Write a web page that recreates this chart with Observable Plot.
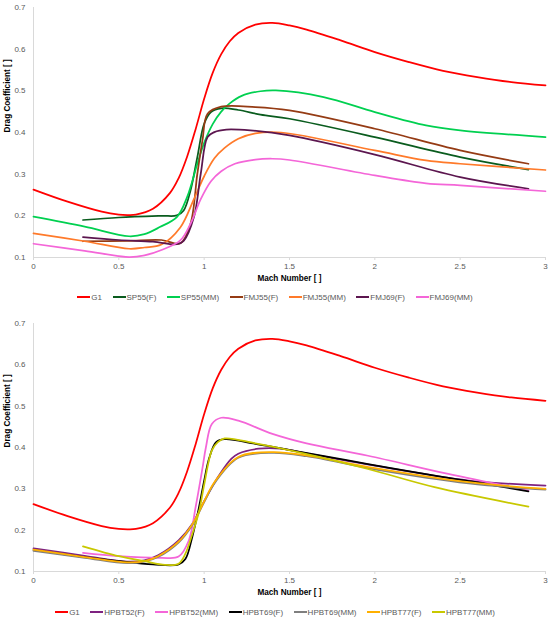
<!DOCTYPE html>
<html>
<head>
<meta charset="utf-8">
<script src="https://cdn.jsdelivr.net/npm/d3@7"></script>
<script src="https://cdn.jsdelivr.net/npm/@observablehq/plot@0.6"></script>
<style>
  html, body { margin: 0; padding: 0; background: #fff; width: 550px; height: 619px; overflow: hidden; }
  body { position: relative; font-family: "Liberation Sans", Arial, sans-serif; }
  .chart { position: absolute; left: 0; }
  .legend { position: absolute; left: 0; width: 550px; height: 16px; display: flex; justify-content: center; align-items: center; gap: 10.5px; font-size: 8px; color: #595959; }
  .item { display: flex; align-items: center; white-space: nowrap; }
  .sw { width: 13px; height: 2px; margin-right: 1px; }
</style>
</head>
<body>
<div id="c1" class="chart" style="top:0px"></div>
<div id="l1" class="legend" style="top:289px"></div>
<div id="c2" class="chart" style="top:310px"></div>
<div id="l2" class="legend" style="top:604px"></div>
<script>
// ---- ticks ----
const xTicks = [0, 0.5, 1, 1.5, 2, 2.5, 3];
const yTicks = [0.1, 0.2, 0.3, 0.4, 0.5, 0.6, 0.7];
const xTitle = "Mach Number [ ]";
const yTitle = "Drag Coefficient [ ]";

// ---- G1 reference (both charts) ----
const g1Mach = [0, 0.2, 0.4, 0.5, 0.55, 0.6, 0.7, 0.8, 0.85, 0.9, 0.95, 1.0, 1.05, 1.1, 1.15, 1.2, 1.3, 1.4, 1.5, 1.6, 1.8, 2.0, 2.2, 2.4, 2.6, 2.8, 3.0];
const g1Cd   = [0.263, 0.234, 0.210, 0.203, 0.202, 0.203, 0.217, 0.255, 0.290, 0.342, 0.408, 0.481, 0.543, 0.588, 0.619, 0.639, 0.659, 0.663, 0.657, 0.647, 0.621, 0.593, 0.569, 0.548, 0.533, 0.521, 0.513];

// ---- top chart ----
const sp55fMach = [0.29, 0.5, 0.75, 0.84, 0.88, 0.92, 0.96, 1.0, 1.04, 1.1, 1.2, 1.33, 1.5, 2.0, 2.5, 2.9];
const sp55fCd   = [0.190, 0.196, 0.200, 0.201, 0.213, 0.261, 0.341, 0.421, 0.449, 0.458, 0.454, 0.443, 0.433, 0.389, 0.341, 0.311];

const sp55mmMach = [0, 0.3, 0.56, 0.65, 0.74, 0.84, 0.9, 0.96, 1.0, 1.05, 1.1, 1.15, 1.22, 1.33, 1.42, 1.7, 2.0, 2.3, 2.5, 3.0];
const sp55mmCd   = [0.198, 0.174, 0.151, 0.156, 0.173, 0.197, 0.245, 0.325, 0.375, 0.420, 0.450, 0.470, 0.488, 0.499, 0.501, 0.485, 0.449, 0.417, 0.405, 0.389];

const fmj55fMach = [0.29, 0.55, 0.75, 0.86, 0.92, 0.96, 0.99, 1.02, 1.1, 1.3, 1.5, 2.0, 2.5, 2.9];
const fmj55fCd   = [0.139, 0.140, 0.142, 0.134, 0.181, 0.301, 0.381, 0.445, 0.462, 0.461, 0.453, 0.409, 0.357, 0.325];

const fmj55mmMach = [0, 0.3, 0.56, 0.65, 0.75, 0.86, 0.94, 1.0, 1.06, 1.12, 1.2, 1.3, 1.45, 2.0, 2.3, 2.5, 3.0];
const fmj55mmCd   = [0.158, 0.139, 0.121, 0.124, 0.131, 0.172, 0.240, 0.295, 0.338, 0.363, 0.385, 0.398, 0.400, 0.357, 0.333, 0.325, 0.310];

const fmj69fMach = [0.29, 0.5, 0.7, 0.84, 0.88, 0.94, 0.98, 1.02, 1.06, 1.13, 1.27, 1.5, 2.0, 2.5, 2.9];
const fmj69fCd   = [0.149, 0.142, 0.138, 0.132, 0.140, 0.197, 0.301, 0.389, 0.401, 0.407, 0.405, 0.393, 0.347, 0.293, 0.265];

const fmj69mmMach = [0, 0.3, 0.56, 0.65, 0.75, 0.86, 0.92, 0.98, 1.04, 1.1, 1.18, 1.3, 1.4, 1.5, 2.0, 2.3, 2.5, 3.0];
const fmj69mmCd   = [0.133, 0.116, 0.101, 0.105, 0.118, 0.141, 0.181, 0.240, 0.283, 0.307, 0.325, 0.335, 0.337, 0.334, 0.297, 0.278, 0.273, 0.259];

// ---- bottom chart ----
const hp52fMach = [0, 0.3, 0.55, 0.65, 0.73, 0.85, 0.93, 1.0, 1.08, 1.16, 1.2, 1.32, 1.45, 1.6, 2.0, 2.55, 3.0];
const hp52fCd   = [0.156, 0.138, 0.124, 0.127, 0.139, 0.175, 0.215, 0.270, 0.328, 0.373, 0.385, 0.397, 0.397, 0.386, 0.356, 0.320, 0.308];

const hp52mmMach = [0.29, 0.5, 0.75, 0.85, 0.91, 0.95, 0.99, 1.01, 1.045, 1.1, 1.2, 1.4, 1.6, 1.96, 2.43, 2.9];
const hp52mmCd   = [0.145, 0.137, 0.133, 0.136, 0.175, 0.256, 0.350, 0.400, 0.457, 0.472, 0.465, 0.433, 0.410, 0.380, 0.336, 0.296];

const hp69fMach = [0, 0.3, 0.5, 0.7, 0.85, 0.89, 0.93, 0.97, 1.0, 1.03, 1.07, 1.12, 1.3, 1.57, 1.96, 2.35, 2.59, 2.9];
const hp69fCd   = [0.152, 0.135, 0.125, 0.117, 0.117, 0.130, 0.183, 0.256, 0.320, 0.375, 0.413, 0.420, 0.409, 0.389, 0.360, 0.332, 0.316, 0.294];

const hp69mmMach = [0, 0.3, 0.55, 0.65, 0.73, 0.85, 0.93, 1.0, 1.06, 1.2, 1.4, 1.6, 2.0, 2.55, 3.0];
const hp69mmCd   = [0.150, 0.133, 0.120, 0.124, 0.135, 0.170, 0.212, 0.268, 0.313, 0.375, 0.387, 0.379, 0.347, 0.313, 0.298];

const hp77fMach = [0, 0.3, 0.55, 0.65, 0.73, 0.85, 0.93, 1.0, 1.06, 1.2, 1.4, 1.6, 2.0, 2.55, 3.0];
const hp77fCd   = [0.153, 0.135, 0.122, 0.125, 0.137, 0.172, 0.214, 0.270, 0.316, 0.377, 0.389, 0.381, 0.350, 0.316, 0.300];

const hp77mmMach = [0.29, 0.5, 0.65, 0.77, 0.85, 0.89, 0.93, 0.97, 1.0, 1.045, 1.08, 1.12, 1.3, 1.57, 1.96, 2.35, 2.9];
const hp77mmCd   = [0.161, 0.137, 0.125, 0.116, 0.119, 0.143, 0.190, 0.245, 0.310, 0.393, 0.413, 0.422, 0.410, 0.387, 0.348, 0.304, 0.257];

// ---- series names & colours ----
const topNames  = ["G1", "SP55(F)", "SP55(MM)", "FMJ55(F)", "FMJ55(MM)", "FMJ69(F)", "FMJ69(MM)"];
const topColors = ["#ff0000", "#0a5c1e", "#00d050", "#953b14", "#ff7a2a", "#5c164f", "#f466d8"];
const botNames  = ["G1", "HPBT52(F)", "HPBT52(MM)", "HPBT69(F)", "HPBT69(MM)", "HPBT77(F)", "HPBT77(MM)"];
const botColors = ["#ff0000", "#7e2280", "#f466d8", "#000000", "#7f7f7f", "#ffb000", "#c8c800"];

const topSeries = [[g1Mach, g1Cd], [sp55fMach, sp55fCd], [sp55mmMach, sp55mmCd], [fmj55fMach, fmj55fCd], [fmj55mmMach, fmj55mmCd], [fmj69fMach, fmj69fCd], [fmj69mmMach, fmj69mmCd]];
const botSeries = [[g1Mach, g1Cd], [hp52fMach, hp52fCd], [hp52mmMach, hp52mmCd], [hp69fMach, hp69fCd], [hp69mmMach, hp69mmCd], [hp77fMach, hp77fCd], [hp77mmMach, hp77mmCd]];

function toRows(names, series) {
  return series.flatMap(([m, c], k) => m.map((mach, i) => ({name: names[k], mach, cd: c[i]})));
}

function chart(names, colors, series, height, marginTop, marginBottom) {
  const rows = toRows(names, series);
  return Plot.plot({
    width: 550, height, marginTop, marginBottom, marginLeft: 33, marginRight: 5,
    style: {fontFamily: "'Liberation Sans', Arial, sans-serif", fontSize: "8px", color: "#595959", background: "white"},
    x: {domain: [0, 3]},
    y: {domain: [0.1, 0.7]},
    color: {domain: names, range: colors},
    marks: [
      Plot.ruleY([0.1], {stroke: "#d9d9d9"}),
      Plot.ruleX([0], {stroke: "#d9d9d9"}),
      Plot.axisX({ticks: xTicks, tickSize: 3, tickPadding: 3, stroke: "#d9d9d9", color: "#595959", label: null, tickFormat: d => String(d)}),
      Plot.axisY({ticks: yTicks, tickSize: 0, tickPadding: 8, color: "#595959", label: null, tickFormat: d => String(d)}),
      Plot.text([xTitle], {frameAnchor: "bottom", lineAnchor: "middle", dy: 21, fontWeight: "bold", fill: "black", fontSize: 8.2}),
      Plot.text([yTitle], {frameAnchor: "left", rotate: -90, dx: -26, fontWeight: "bold", fill: "black", fontSize: 8.2}),
      Plot.line(rows, {x: "mach", y: "cd", z: "name", stroke: "name", strokeWidth: 1.75, curve: "catmull-rom"})
    ]
  });
}

document.getElementById("c1").appendChild(chart(topNames, topColors, topSeries, 287, 7, 30));
document.getElementById("c2").appendChild(chart(botNames, botColors, botSeries, 290, 13, 29));

function legend(id, names, colors) {
  const el = document.getElementById(id);
  names.forEach((n, i) => {
    const it = document.createElement("div");
    it.className = "item";
    const sw = document.createElement("span");
    sw.className = "sw";
    sw.style.background = colors[i];
    const tx = document.createElement("span");
    tx.textContent = n;
    it.appendChild(sw); it.appendChild(tx);
    el.appendChild(it);
  });
}
legend("l1", topNames, topColors);
legend("l2", botNames, botColors);
</script>
</body>
</html>
